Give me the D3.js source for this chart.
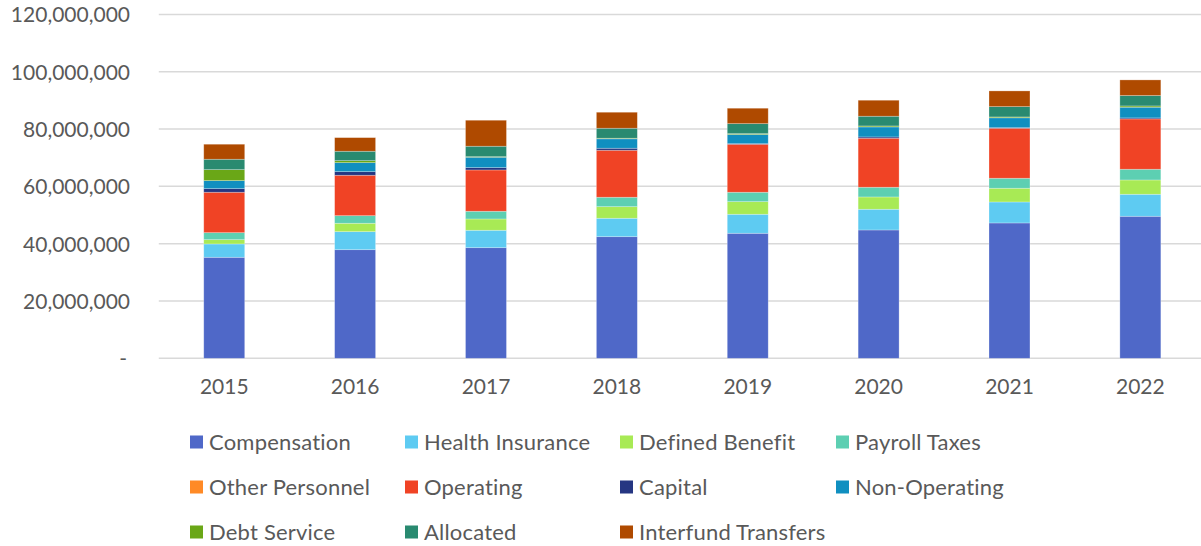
<!DOCTYPE html>
<html>
<head>
<meta charset="utf-8">
<script src="https://cdn.jsdelivr.net/npm/d3@7"></script>
<style>
  html, body { margin: 0; padding: 0; background: #fff; }
  svg { display: block; }
</style>
</head>
<body>
<svg id="chart" width="1201" height="546"></svg>
<script>
const years = ["2015", "2016", "2017", "2018", "2019", "2020", "2021", "2022"];
const seriesNames = ["Compensation", "Health Insurance", "Defined Benefit", "Payroll Taxes",
  "Other Personnel", "Operating", "Capital", "Non-Operating", "Debt Service", "Allocated", "Interfund Transfers"];
const seriesColors = ["#4F68C8", "#5ECBF2", "#A8EA55", "#5DCFB2", "#FF8A26", "#F04325",
  "#253682", "#108FC0", "#6AA717", "#298A70", "#AF4A00"];

const compensation    = [35250000, 37900000, 38600000, 42440000, 43630000, 44780000, 47230000, 49560000];
const healthInsurance = [4650000, 6290000, 6080000, 6430000, 6630000, 7230000, 7320000, 7680000];
const definedBenefit  = [1500000, 2930000, 3940000, 4040000, 4400000, 4290000, 4790000, 4990000];
const payrollTaxes    = [2440000, 2650000, 2690000, 3290000, 3280000, 3390000, 3490000, 3740000];
const otherPersonnel  = [0, 0, 0, 0, 0, 0, 0, 0];
const operating       = [14100000, 14100000, 14410000, 16400000, 16750000, 17100000, 17450000, 17560000];
const capital         = [1260000, 1260000, 810000, 700000, 200000, 450000, 200000, 350000];
const nonOperating    = [2800000, 3140000, 3630000, 3290000, 3200000, 3490000, 3440000, 3730000];
const debtService     = [3830000, 700000, 200000, 200000, 300000, 350000, 300000, 450000];
const allocated       = [3630000, 3280000, 3640000, 3490000, 3490000, 3390000, 3600000, 3630000];
const interfund       = [5240000, 4750000, 9070000, 5580000, 5380000, 5580000, 5480000, 5450000];

const yTicks = [0, 20000000, 40000000, 60000000, 80000000, 100000000, 120000000];

const seriesValues = [compensation, healthInsurance, definedBenefit, payrollTaxes, otherPersonnel,
  operating, capital, nonOperating, debtService, allocated, interfund];

// Build table for d3.stack
const table = years.map((yr, i) => {
  const row = { year: yr };
  seriesNames.forEach((n, j) => { row[n] = seriesValues[j][i]; });
  return row;
});

const svg = d3.select("#chart");
const FONT = "Lato, 'Open Sans', sans-serif";
const TEXT = "#595959";

const x = d3.scaleBand().domain(years).range([158.8, 1205.8]).paddingInner(0.687).paddingOuter(0.3435);
const y = d3.scaleLinear().domain([0, 120000000]).range([358.3, 14.4]);

// gridlines
svg.append("g").selectAll("line").data(yTicks).join("line")
  .attr("x1", 158.8).attr("x2", 1201)
  .attr("y1", d => y(d)).attr("y2", d => y(d))
  .attr("stroke", "#D9D9D9").attr("stroke-width", 1.5);

// y axis labels
const yAxis = d3.axisLeft(y).tickValues(yTicks).tickSize(0).tickPadding(0)
  .tickFormat(d => d === 0 ? "-" : d3.format(",")(d));
const ya = svg.append("g").attr("transform", "translate(130,0)").call(yAxis);
ya.select(".domain").remove();
ya.selectAll("text").attr("font-family", FONT).attr("font-size", 21).attr("fill", TEXT)
  .attr("dy", "0.35em").attr("dx", d => d === 0 ? -3 : 0);

// x axis labels
const xAxis = d3.axisBottom(x).tickSize(0).tickPadding(0);
const xa = svg.append("g").attr("transform", "translate(0,374)").call(xAxis);
xa.select(".domain").remove();
xa.selectAll("text").attr("font-family", FONT).attr("font-size", 21).attr("fill", TEXT).attr("dy", "0.95em");

// stacked bars
const stack = d3.stack().keys(seriesNames);
const layers = stack(table);
svg.append("g").selectAll("g").data(layers).join("g")
  .attr("fill", (d, i) => seriesColors[i])
  .selectAll("rect").data(d => d).join("rect")
  .attr("x", d => x(d.data.year))
  .attr("width", x.bandwidth())
  .attr("y", d => y(d[1]))
  .attr("height", d => Math.max(0, y(d[0]) - y(d[1])))
  .attr("stroke", "#ffffff").attr("stroke-opacity", 0.35).attr("stroke-width", 0.75);

// legend
const legendCols = [190, 405, 620, 836];
const legendRows = [442, 487, 532];
const lg = svg.append("g");
seriesNames.forEach((n, i) => {
  const cx = legendCols[i % 4];
  const cy = legendRows[Math.floor(i / 4)];
  const g = lg.append("g").attr("transform", `translate(${cx},${cy})`);
  g.append("rect").attr("x", 0).attr("y", -6.5).attr("width", 13).attr("height", 13).attr("fill", seriesColors[i]);
  g.append("text").attr("x", 19).attr("y", 0).attr("dy", "0.36em")
    .attr("font-family", FONT).attr("font-size", 22).attr("letter-spacing", 0.2)
    .attr("fill", TEXT).text(n);
});
</script>
</body>
</html>
